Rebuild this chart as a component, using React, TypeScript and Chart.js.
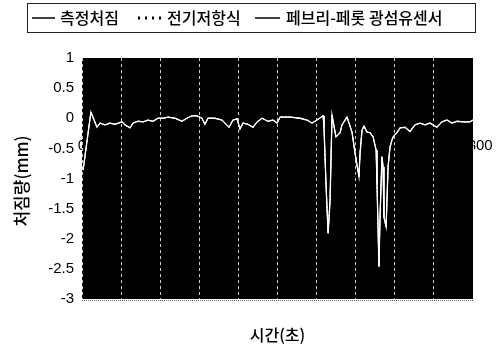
import React, { useEffect, useRef } from "react";
import { Chart, registerables } from "chart.js";

Chart.register(...registerables);

// time (s)
const times = [5, 41, 69, 83, 106, 129, 152, 184, 198, 221, 235, 258, 281, 304, 327, 350, 373, 396, 428, 460, 483, 506, 529, 552, 566, 580, 612, 645, 658, 677, 695, 714, 727, 741, 764, 787, 806, 829, 856, 879, 898, 912, 958, 1004, 1036, 1059, 1082, 1110, 1114, 1123, 1133, 1142, 1151, 1169, 1188, 1197, 1220, 1243, 1257, 1275, 1280, 1289, 1298, 1312, 1326, 1340, 1354, 1358, 1367, 1372, 1381, 1386, 1390, 1400, 1409, 1418, 1427, 1432, 1450, 1464, 1487, 1510, 1533, 1556, 1579, 1602, 1634, 1657, 1680, 1703, 1727, 1754, 1786, 1800];
// deflection (mm)
const measured = [-0.86, 0.1, -0.15, -0.08, -0.11, -0.08, -0.1, -0.06, -0.11, -0.16, -0.08, -0.05, -0.06, -0.03, -0.05, 0.0, 0.0, 0.02, 0.0, -0.05, 0.0, 0.04, 0.04, 0.0, -0.1, 0.0, 0.0, -0.03, -0.08, -0.15, -0.03, -0.01, -0.18, -0.08, -0.1, -0.15, -0.06, 0.0, -0.05, -0.03, -0.08, 0.02, 0.02, 0.0, -0.03, -0.08, -0.03, 0.04, -0.15, -1.07, -1.91, -1.36, 0.05, -0.31, -0.24, -0.11, 0.02, -0.23, -0.58, -0.97, -0.58, -0.2, -0.13, -0.23, -0.24, -0.31, -0.53, -1.07, -2.46, -1.64, -0.64, -0.81, -1.64, -1.8, -0.81, -0.48, -0.36, -0.31, -0.24, -0.16, -0.15, -0.22, -0.11, -0.08, -0.11, -0.08, -0.15, -0.06, -0.03, -0.08, -0.05, -0.06, -0.06, -0.03];
const resistance = measured;
const fiber = measured;

const seriesNames = ["측정처짐", "전기저항식", "페브리-페롯 광섬유센서"];
const xEndLabels = ["0", "1800"];
const yTitle = "처짐량(mm)";
const xTitle = "시간(초)";

const toPts = (vals: number[]) => vals.map((v, i) => ({ x: times[i], y: v }));

export default function App() {
  const ref = useRef<HTMLCanvasElement | null>(null);
  useEffect(() => {
    if (!ref.current) return;
    const font = "'Noto Sans CJK KR', 'Liberation Sans', sans-serif";
    const deco = {
      id: "deco",
      beforeDraw(chart: any) {
        const { ctx, chartArea: a, scales } = chart;
        ctx.save();
        ctx.fillStyle = "#fff";
        ctx.fillRect(0, 0, chart.width, chart.height);
        // x end labels (partly hidden by plot area)
        ctx.fillStyle = "#000";
        ctx.font = "15px 'Liberation Sans', Arial, sans-serif";
        ctx.textAlign = "center";
        ctx.textBaseline = "middle";
        const ly = scales.y.getPixelForValue(-0.46);
        ctx.fillText(xEndLabels[0], scales.x.getPixelForValue(0), ly);
        ctx.fillText(xEndLabels[1], scales.x.getPixelForValue(1800) + 3, ly);
        // plot area
        ctx.fillStyle = "#000";
        ctx.fillRect(a.left, a.top, a.right - a.left, a.bottom - a.top);
        ctx.restore();
      },
      afterDraw(chart: any) {
        const { ctx, chartArea: a } = chart;
        ctx.save();
        // bottom dotted border
        ctx.strokeStyle = "#666";
        ctx.setLineDash([1, 1]);
        ctx.beginPath();
        ctx.moveTo(a.left, a.bottom + 1.5);
        ctx.lineTo(a.right, a.bottom + 1.5);
        ctx.stroke();
        ctx.setLineDash([]);
        // titles
        ctx.fillStyle = "#000";
        ctx.font = "500 16px " + font;
        ctx.textAlign = "center";
        ctx.textBaseline = "middle";
        ctx.fillText(xTitle, (a.left + a.right) / 2, 335);
        ctx.translate(22, 181);
        ctx.rotate(-Math.PI / 2);
        ctx.font = "500 17px " + font;
        ctx.fillText(yTitle, 0, 0);
        ctx.restore();
        // legend box
        ctx.save();
        ctx.fillStyle = "#fff";
        ctx.fillRect(27, 3, 449, 30);
        ctx.strokeStyle = "#222";
        ctx.lineWidth = 1;
        ctx.strokeRect(27.5, 3.5, 448, 29);
        ctx.font = "500 16px " + font;
        ctx.fillStyle = "#000";
        ctx.textAlign = "left";
        ctx.textBaseline = "middle";
        const ymid = 18;
        const items = [
          { x0: 32, x1: 55, dash: [], tx: 60 },
          { x0: 138, x1: 163, dash: [2, 5], tx: 167 },
          { x0: 255, x1: 280, dash: [], tx: 286 },
        ];
        items.forEach((it, i) => {
          ctx.strokeStyle = "#000";
          ctx.lineWidth = i === 1 ? 3 : 1.5;
          ctx.setLineDash(it.dash);
          ctx.beginPath();
          ctx.moveTo(it.x0, ymid);
          ctx.lineTo(it.x1, ymid);
          ctx.stroke();
          ctx.setLineDash([]);
          ctx.fillText(seriesNames[i], it.tx, ymid);
        });
        ctx.restore();
      },
    };
    const chart = new Chart(ref.current, {
      type: "line",
      data: {
        datasets: [
          { label: seriesNames[0], data: toPts(measured), borderColor: "#fff", borderWidth: 1.3, pointRadius: 0, tension: 0 },
          { label: seriesNames[1], data: toPts(resistance), borderColor: "#fff", borderWidth: 1, borderDash: [2, 2], pointRadius: 0, tension: 0 },
          { label: seriesNames[2], data: toPts(fiber), borderColor: "#fff", borderWidth: 1, pointRadius: 0, tension: 0 },
        ],
      },
      options: {
        responsive: false,
        animation: false,
        layout: { padding: { top: 58, bottom: 48, left: 0, right: 24 } },
        plugins: { legend: { display: false }, tooltip: { enabled: false } },
        scales: {
          x: {
            type: "linear",
            min: 0,
            max: 1800,
            ticks: { display: false, stepSize: 180 },
            border: { display: false, dash: [3, 3] },
            grid: { color: "rgba(255,255,255,0.8)", lineWidth: 1, drawTicks: false },
            afterFit(s: any) { s.height = 0; },
          },
          y: {
            min: -3,
            max: 1,
            ticks: {
              stepSize: 0.5,
              color: "#000",
              padding: 8,
              font: { family: "'Liberation Sans', Arial, sans-serif", size: 15 },
              callback: (v: any) => String(Math.round(Number(v) * 10) / 10),
            },
            border: { display: false },
            grid: { display: false, drawTicks: false },
            afterFit(s: any) { s.width = 82; },
          },
        },
      },
      plugins: [deco],
    } as any);
    return () => chart.destroy();
  }, []);
  return (
    <div style={{ position: "fixed", left: 0, top: 0, width: 497, height: 347 }}>
      <canvas ref={ref} width={497} height={347} style={{ display: "block" }} />
    </div>
  );
}
